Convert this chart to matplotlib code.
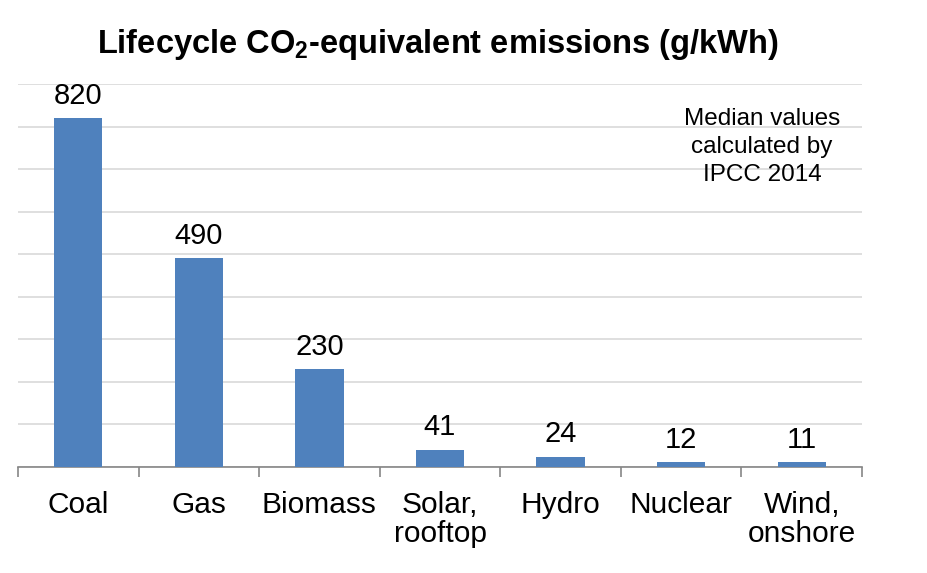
import matplotlib
matplotlib.use("Agg")
import matplotlib.pyplot as plt

categories = ["Coal", "Gas", "Biomass", "Solar,\nrooftop", "Hydro", "Nuclear", "Wind,\nonshore"]
values = [820, 490, 230, 41, 24, 12, 11]
value_labels = ["820", "490", "230", "41", "24", "12", "11"]

plt.rcParams['font.family'] = ['Liberation Sans', 'DejaVu Sans']

fig = plt.figure(figsize=(9.27, 5.73), dpi=100)
ax = fig.add_axes([18/927, 1 - 467/573, (862-18)/927, (467-84)/573])

x = list(range(len(categories)))
ax.bar(x, values, width=0.4, color="#4F81BD", zorder=3)
ax.set_xlim(-0.5, len(categories) - 0.5)
ax.set_ylim(0, 900)
ax.set_yticks(range(0, 901, 100))
ax.yaxis.grid(True, color="#D9D9D9", linewidth=1.2, zorder=0)
ax.tick_params(axis='y', left=False, labelleft=False)
for s in ["top", "right", "left"]:
    ax.spines[s].set_visible(False)
ax.spines["bottom"].set_color("#868686")
ax.spines["bottom"].set_linewidth(1.2)

ax.set_xticks([i - 0.5 for i in range(len(categories) + 1)])
ax.set_xticklabels([])
ax.set_xticks(x, minor=True)
ax.set_xticklabels(categories, minor=True, fontsize=21.5, linespacing=1.05)
ax.tick_params(axis='x', which='major', length=7, color="#868686", width=1.2)
ax.tick_params(axis='x', which='minor', length=0, pad=17)

for xi, v, lab in zip(x, values, value_labels):
    ax.annotate(lab, (xi, v), xytext=(0, 6), textcoords="offset points",
                ha="center", va="bottom", fontsize=21, zorder=4)

fig.text(438/927, 1 - 45/573, "Lifecycle CO$_\\mathregular{2}$-equivalent emissions (g/kWh)",
         ha="center", va="center", fontsize=23.5, fontweight="bold")

ax.text(762/927, 1 - 147/573, "Median values\ncalculated by\nIPCC 2014",
        transform=fig.transFigure, ha="center", va="center", fontsize=17.5, linespacing=1.35)

fig.savefig("out.png", dpi=100)
